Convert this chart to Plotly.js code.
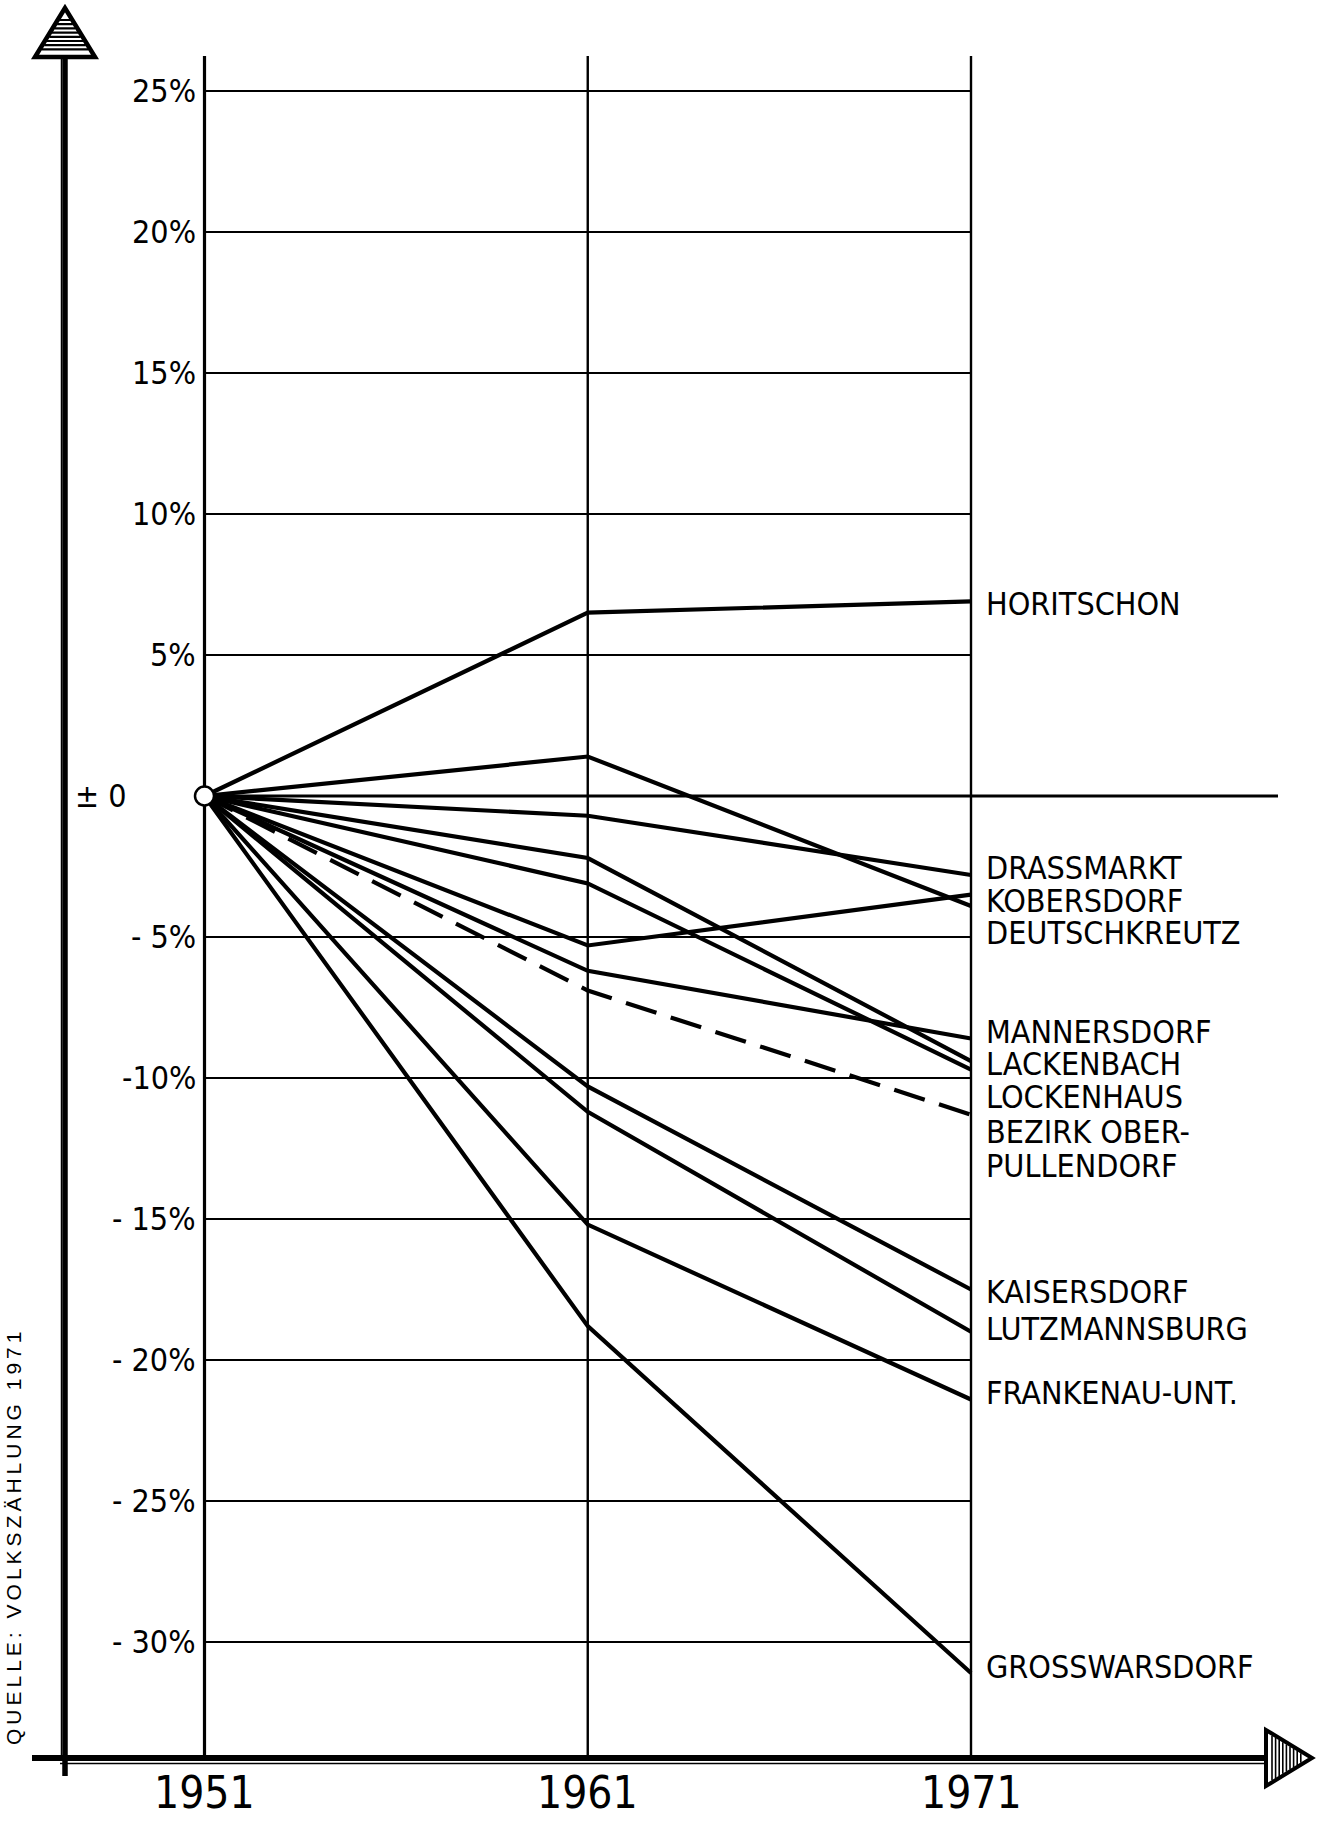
<!DOCTYPE html>
<html><head><meta charset="utf-8">
<script src="https://cdn.plot.ly/plotly-3.0.1.min.js"></script>
<style>html,body{margin:0;padding:0;background:#fff}</style>
</head><body><div id="chart" style="width:1321px;height:1821px"></div>
<script>
// ---------------- DATA ----------------
const years = [1951, 1961, 1971];
const horitschon    = [0,   6.5,   6.9];
const drassmarkt    = [0,  -0.7,  -2.8];
const kobersdorf    = [0,  -5.3,  -3.5];
const deutschkreutz = [0,   1.4,  -3.9];
const mannersdorf   = [0,  -6.2,  -8.6];
const lackenbach    = [0,  -2.2,  -9.4];
const lockenhaus    = [0,  -3.1,  -9.7];
const bezirkOP      = [0,  -6.9, -11.3];
const kaisersdorf   = [0, -10.3, -17.5];
const lutzmannsburg = [0, -11.2, -19.0];
const frankenau     = [0, -15.2, -21.4];
const grosswarsdorf = [0, -18.8, -31.1];
const seriesNames = ["HORITSCHON","DRASSMARKT","KOBERSDORF","DEUTSCHKREUTZ","MANNERSDORF","LACKENBACH","LOCKENHAUS","BEZIRK OBER-<br>PULLENDORF","KAISERSDORF","LUTZMANNSBURG","FRANKENAU-UNT.","GROSSWARSDORF"];
const seriesValues = [horitschon,drassmarkt,kobersdorf,deutschkreutz,mannersdorf,lackenbach,lockenhaus,bezirkOP,kaisersdorf,lutzmannsburg,frankenau,grosswarsdorf];
const dashedSeries = ["BEZIRK OBER-<br>PULLENDORF"];
const yTickVals = [25,20,15,10,5,0,-5,-10,-15,-20,-25,-30];
const yTickText = ["25%","20%","15%","10%","5%","± 0","- 5%","-10%","- 15%","- 20%","- 25%","- 30%"];
const yearLabels = ["1951","1961","1971"];
const sourceNote = "QUELLE: VOLKSZÄHLUNG 1971";

// ---------------- LAYOUT GEOMETRY ----------------
const W = 1321, H = 1821;
const X0PX = 204.5, PX_PER_YEAR = 38.325;
const Y0PX = 796, PX_PER_PCT = 28.2;
const dx = p => years[0] + (p - X0PX) / PX_PER_YEAR;   // pixel -> data x
const dy = p => (Y0PX - p) / PX_PER_PCT;               // pixel -> data y
const FONT = "'Liberation Sans Narrow', 'DejaVu Sans Condensed', 'Arial Narrow', sans-serif";
// label vertical positions (pixels) for names at the right
const labelLinesY = [604, 868, 901, 933, 1032, 1064, 1097, [1132, 1166], 1292, 1329, 1393, 1667];

const traces = [];
seriesNames.forEach((n, i) => {
  traces.push({
    x: years, y: seriesValues[i], type: 'scatter', mode: 'lines', name: n.replace('<br>',''),
    line: {color: '#000', width: 4.2, dash: dashedSeries.includes(n) ? '32px,15px' : 'solid'},
    hoverinfo: 'skip'
  });
});
// origin circle
traces.push({x: [years[0]], y: [0], type: 'scatter', mode: 'markers',
  marker: {size: 19, color: '#fff', line: {color: '#000', width: 2.5}}, hoverinfo: 'skip'});

const shapes = [];
const L = (x0,y0,x1,y1,w) => ({type:'line', xref:'x', yref:'y', x0, y0, x1, y1, line:{color:'#000', width:w}, layer:'below'});
yTickVals.forEach(v => {
  shapes.push(L(years[0], v, v === 0 ? dx(1278) : years[years.length-1], v, v === 0 ? 3.2 : 2.2));
});
years.forEach((yr, i) => shapes.push(L(yr, dy(56), yr, dy(1760), i === 0 ? 3.2 : 2.4)));
// left axis + bottom axis
shapes.push(L(dx(65), dy(54), dx(65), dy(1776), 5.5));
shapes.push(L(dx(61.5), dy(54), dx(61.5), dy(1760), 1.5));
shapes.push(L(dx(32), dy(1758), dx(1270), dy(1758), 6));
shapes.push(L(dx(60), dy(1763.5), dx(1270), dy(1763.5), 1.5));
// up arrowhead (hatched)
let upPath = `M ${dx(65)},${dy(8)} L ${dx(35)},${dy(57)} L ${dx(95)},${dy(57)} Z`;
shapes.push({type:'path', xref:'x', yref:'y', path: upPath, fillcolor:'#fff', line:{color:'#000', width:4.5}});
let hatch = '';
for (let p = 20; p <= 53; p += 4.2) {
  const half = (p - 8) / 49 * 30 - 2;
  hatch += `M ${dx(65 - half)},${dy(p)} L ${dx(65 + half)},${dy(p)} `;
}
shapes.push({type:'path', xref:'x', yref:'y', path: hatch, line:{color:'#000', width:2.2}});
// right arrowhead (hatched)
let rPath = `M ${dx(1312)},${dy(1758)} L ${dx(1266)},${dy(1730)} L ${dx(1266)},${dy(1786)} Z`;
shapes.push({type:'path', xref:'x', yref:'y', path: rPath, fillcolor:'#fff', line:{color:'#000', width:4}});
let vh = '';
for (let p = 1272; p <= 1302; p += 3.6) {
  const half = (1312 - p) / 46 * 28 - 2;
  vh += `M ${dx(p)},${dy(1758 - half)} L ${dx(p)},${dy(1758 + half)} `;
}
shapes.push({type:'path', xref:'x', yref:'y', path: vh, line:{color:'#000', width:1.6}});

const annotations = [];
const A = (text, x, y, size, xanchor, extra) => Object.assign({text, x, y, xref:'x', yref:'y', showarrow:false,
  xanchor: xanchor || 'center', yanchor:'middle', borderpad:0, font:{family:FONT, size, color:'#000'}}, extra || {});
yTickVals.forEach((v, i) => {
  annotations.push(A(yTickText[i], v === 0 ? dx(128) : dx(197), v, 32, 'right'));
});
years.forEach((yr, i) => annotations.push(A(yearLabels[i], yr, dy(1792), 44, 'center')));
seriesNames.forEach((n, i) => {
  const parts = n.split('<br>');
  const ys = Array.isArray(labelLinesY[i]) ? labelLinesY[i] : [labelLinesY[i]];
  parts.forEach((t, k) => annotations.push(A(t, dx(985), dy(ys[k]), 32, 'left')));
});
annotations.push(A(sourceNote, dx(13), dy(1537), 21, 'center', {textangle: -90, font:{family:"'Liberation Sans', 'DejaVu Sans', sans-serif", size:21, color:'#000'}}));

const layout = {
  width: W, height: H, margin: {l:0, r:0, t:0, b:0},
  paper_bgcolor: '#fff', plot_bgcolor: '#fff', showlegend: false,
  xaxis: {range: [dx(0), dx(W)], visible: false, fixedrange: true},
  yaxis: {range: [dy(H), dy(0)], visible: false, fixedrange: true},
  shapes, annotations
};
Plotly.newPlot('chart', traces, layout, {staticPlot: true}).then(() => {
  document.querySelectorAll('.annotation-text').forEach(t => {
    if (t.textContent.indexOf('QUELLE') === 0) t.style.letterSpacing = '4px';
  });
});
</script></body></html>
